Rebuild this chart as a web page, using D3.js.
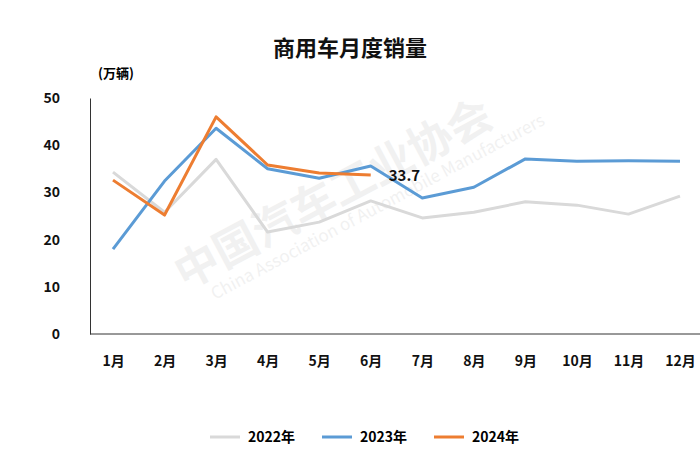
<!DOCTYPE html>
<html><head><meta charset="utf-8">
<script src="https://cdn.jsdelivr.net/npm/d3@7"></script>
<style>body{margin:0;background:#fff}text{font-family:"Noto Sans CJK SC","Noto Sans",sans-serif}</style>
</head><body>
<script>
const months = ["1月","2月","3月","4月","5月","6月","7月","8月","9月","10月","11月","12月"]
const s2022 = [34.3,25.8,37,21.6,23.7,28.2,24.6,25.8,28,27.3,25.4,29.2]
const s2023 = [18,32.4,43.6,35,33,35.6,28.8,31.1,37.1,36.6,36.7,36.6]
const s2024 = [32.6,25.2,46,35.8,34.1,33.7]
const yTicks = [0,10,20,30,40,50]
const series = [
  {name:"2022年", values:s2022, color:"#d9d9d9"},
  {name:"2023年", values:s2023, color:"#5b9bd5"},
  {name:"2024年", values:s2024, color:"#ed7d31"}
]

const width = 700, height = 460
const svg = d3.select("body").append("svg").attr("width",width).attr("height",height)

// watermark
const wm = svg.append("g").attr("opacity",0.08).attr("fill","#555")
wm.append("text").attr("transform","translate(185,290) rotate(-28)").attr("font-size",44).attr("font-weight","bold").text("中国汽车工业协会")
wm.append("text").attr("transform","translate(215,300) rotate(-28)").attr("font-size",17).text("China Association of Automobile Manufacturers")

const x = d3.scalePoint().domain(months).range([113,680])
const y = d3.scaleLinear().domain([0,50]).range([334,98])

svg.append("text").attr("x",350).attr("y",56).attr("text-anchor","middle")
  .attr("font-size",22).attr("font-weight","bold").attr("fill","#111").text("商用车月度销量")
svg.append("text").attr("x",98).attr("y",78).attr("font-size",13).attr("font-weight","bold").text("(万辆)")

const ya = svg.append("g").attr("transform","translate(90,0)")
  .call(d3.axisLeft(y).tickValues(yTicks).tickSize(0).tickPadding(30))
ya.select(".domain").attr("stroke","#333")
ya.selectAll("text").attr("font-size",14).attr("font-weight","bold").attr("fill","#111")

const xa = svg.append("g").attr("transform","translate(0,334)")
  .call(d3.axisBottom(x).tickSize(0).tickPadding(22))
xa.select(".domain").attr("d","M90,0H700").attr("stroke","#333")
xa.selectAll("text").attr("font-size",14).attr("font-weight","bold").attr("fill","#111")

const line = d3.line().x((d,i)=>x(months[i])).y(d=>y(d))
series.forEach(s=>{
  svg.append("path").attr("d",line(s.values)).attr("fill","none")
    .attr("stroke",s.color).attr("stroke-width",3).attr("stroke-linejoin","round")
})
svg.append("text").attr("x",x(months[5])+18).attr("y",y(s2024[5])+6)
  .attr("font-size",15).attr("font-weight","bold").attr("fill","#111").text(s2024[5])

const lg = svg.append("g")
series.forEach((s,i)=>{
  const lx = 210 + i*112
  lg.append("line").attr("x1",lx).attr("x2",lx+30).attr("y1",437).attr("y2",437)
    .attr("stroke",s.color).attr("stroke-width",3)
  lg.append("text").attr("x",lx+38).attr("y",442).attr("font-size",14).attr("font-weight","bold").text(s.name)
})
</script>
</body></html>
